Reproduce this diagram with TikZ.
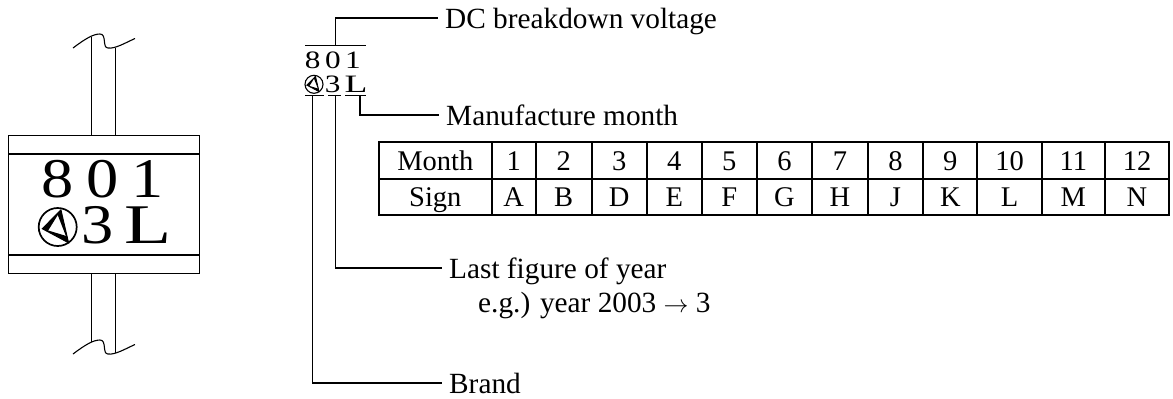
\documentclass[tikz,border=0pt]{standalone}
\usepackage{fontspec}
\setmainfont{Liberation Serif}
\usepackage{tikz}
\usetikzlibrary{positioning}

\begin{document}
\begin{tikzpicture}[
  x=1pt, y=-1pt,
  line/.style={draw=black, line width=1.1pt},
  lead/.style={draw=black, line width=1.3pt},
  logoline/.style={line width=1.7pt},
  logothin/.style={line width=1pt},
  tablecell/.style={rectangle, draw=black, line width=1.8pt, align=center, minimum height=36.5pt, inner sep=0pt, outer sep=0pt, text height=19pt, text depth=0pt, font=\fontsize{28.5}{30}\selectfont},
  bigmark/.style={anchor=base, inner sep=0pt, xscale=1.15, transform shape, font=\fontsize{56}{60}\selectfont},
  smallmark/.style={anchor=base, inner sep=0pt, xscale=1.25, transform shape, font=\fontsize{25}{27}\selectfont},
  label/.style={anchor=west, inner xsep=7pt, inner ysep=0pt, text height=20pt, text depth=0pt, font=\fontsize{29.3}{32}\selectfont},
  brandlogo/.pic={
    \draw[logoline] (0,0) circle (1);
    \draw[logothin] (-0.81,0.09) -- (0.17,-0.9) -- (0.57,0.83) -- cycle;
    \fill (-0.81,0.09) -- (0.17,-0.9) -- (-0.534,0.238) -- cycle;
    \fill (0.17,-0.9) -- (0.57,0.83) -- (-0.026,-0.702) -- cycle;
    \fill (0.57,0.83) -- (-0.81,0.09) -- (0.49,0.484) -- cycle;
  }
]
\useasboundingbox (0,0) rectangle (1173,399);

% capacitor
\node[rectangle, line, minimum width=191pt, minimum height=137.6pt, inner sep=0pt, outer sep=0pt] (body) at (103.8,204.5) {};
\coordinate (bandtopl) at (8.3,154);
\coordinate (bandtopr) at (199.3,154);
\coordinate (bandbotl) at (8.3,255);
\coordinate (bandbotr) at (199.3,255);
\draw[line] (bandtopl) -- (bandtopr);
\draw[line] (bandbotl) -- (bandbotr);

\coordinate (leadal) at (91.7,37);
\coordinate (leadar) at (115.7,48);
\coordinate (leadbl) at (91.7,342);
\coordinate (leadbr) at (115.7,353);
\draw[line] (leadal) -- (leadal |- body.north);
\draw[line] (leadar) -- (leadar |- body.north);
\draw[line] (leadbl) -- (leadbl |- body.south);
\draw[line] (leadbr) -- (leadbr |- body.south);
\draw[line] (73,48) .. controls (85,39) and (93,34) .. (100,34) .. controls (107,34) and (102,48) .. (108,48) .. controls (115,49) and (125,43) .. (135,38.5);
\draw[line] (73,354) .. controls (85,345) and (93,340) .. (100,340) .. controls (107,340) and (102,354) .. (108,354) .. controls (115,355) and (125,349) .. (135,344.5);

\node[bigmark] (big8) at (58,197) {8};
\node[bigmark] (big0) at (103,197) {0};
\node[bigmark] (big1) at (148,197) {1};
\path (57.7,227) pic[scale=19] {brandlogo};
\node[bigmark] (big3) at (98,243) {3};
\node[bigmark, xscale=1.2] (bigL) at (148,243) {L};

% marking
\node[smallmark] (mark8) at (312.7,68) {8};
\node[smallmark] (mark0) at (333,68) {0};
\node[smallmark] (mark1) at (353,68) {1};
\path (314,84.3) pic[scale=9, logoline/.style={line width=1.1pt}, logothin/.style={line width=0.7pt}] {brandlogo};
\node[smallmark] (mark3) at (332.7,92.7) {3};
\node[smallmark, xscale=1.2] (markL) at (356,92.7) {L};

\coordinate (barvolta) at (305,45.7);
\coordinate (barvoltb) at (366,45.7);
\coordinate (barbranda) at (305,95.3);
\coordinate (barbrandb) at (324.3,95.3);
\coordinate (baryeara) at (328.3,95.3);
\coordinate (baryearb) at (341,95.3);
\coordinate (barmontha) at (345,95.3);
\coordinate (barmonthb) at (366,95.3);
\draw[lead] (barvolta) -- (barvoltb);
\draw[lead] (barbranda) -- (barbrandb);
\draw[lead] (baryeara) -- (baryearb);
\draw[lead] (barmontha) -- (barmonthb);

\coordinate (voltfoot) at (335.7,45.7);
\coordinate (monthfoot) at (360,95.3);
\coordinate (yearfoot) at (335.7,95.3);
\coordinate (brandfoot) at (312.7,95.3);

\node[label] (voltlabel) at (438,18) {DC breakdown voltage};
\node[label] (monthlabel) at (439,115) {Manufacture month};
\node[label] (yearlabel) at (442,268) {Last figure of year};
\node[label, anchor=base west, inner xsep=0pt] (examplelabel) at (478,312) {e.g.) year 2003 $\rightarrow$ 3};
\node[label] (brandlabel) at (442,383) {Brand};

\draw[lead] (voltfoot) |- (voltlabel.west);
\draw[lead] (monthfoot) |- (monthlabel.west);
\draw[lead] (yearfoot) |- (yearlabel.west);
\draw[lead] (brandfoot) |- (brandlabel.west);

% table
\node[tablecell, minimum width=112.7pt] (month) at (435.35,160.5) {Month};
\node[tablecell, minimum width=44pt, right=0pt of month] (m1) {1};
\node[tablecell, minimum width=56pt, right=0pt of m1] (m2) {2};
\node[tablecell, minimum width=55pt, right=0pt of m2] (m3) {3};
\node[tablecell, minimum width=55.3pt, right=0pt of m3] (m4) {4};
\node[tablecell, minimum width=54.7pt, right=0pt of m4] (m5) {5};
\node[tablecell, minimum width=55.6pt, right=0pt of m5] (m6) {6};
\node[tablecell, minimum width=55.4pt, right=0pt of m6] (m7) {7};
\node[tablecell, minimum width=55.6pt, right=0pt of m7] (m8) {8};
\node[tablecell, minimum width=54pt, right=0pt of m8] (m9) {9};
\node[tablecell, minimum width=64.4pt, right=0pt of m9] (m10) {10};
\node[tablecell, minimum width=63.3pt, right=0pt of m10] (m11) {11};
\node[tablecell, minimum width=64pt, right=0pt of m11] (m12) {12};

\node[tablecell, minimum width=112.7pt, below=0pt of month] (sign) {Sign};
\node[tablecell, minimum width=44pt, below=0pt of m1] (s1) {A};
\node[tablecell, minimum width=56pt, below=0pt of m2] (s2) {B};
\node[tablecell, minimum width=55pt, below=0pt of m3] (s3) {D};
\node[tablecell, minimum width=55.3pt, below=0pt of m4] (s4) {E};
\node[tablecell, minimum width=54.7pt, below=0pt of m5] (s5) {F};
\node[tablecell, minimum width=55.6pt, below=0pt of m6] (s6) {G};
\node[tablecell, minimum width=55.4pt, below=0pt of m7] (s7) {H};
\node[tablecell, minimum width=55.6pt, below=0pt of m8] (s8) {J};
\node[tablecell, minimum width=54pt, below=0pt of m9] (s9) {K};
\node[tablecell, minimum width=64.4pt, below=0pt of m10] (s10) {L};
\node[tablecell, minimum width=63.3pt, below=0pt of m11] (s11) {M};
\node[tablecell, minimum width=64pt, below=0pt of m12] (s12) {N};
\end{tikzpicture}
\end{document}
